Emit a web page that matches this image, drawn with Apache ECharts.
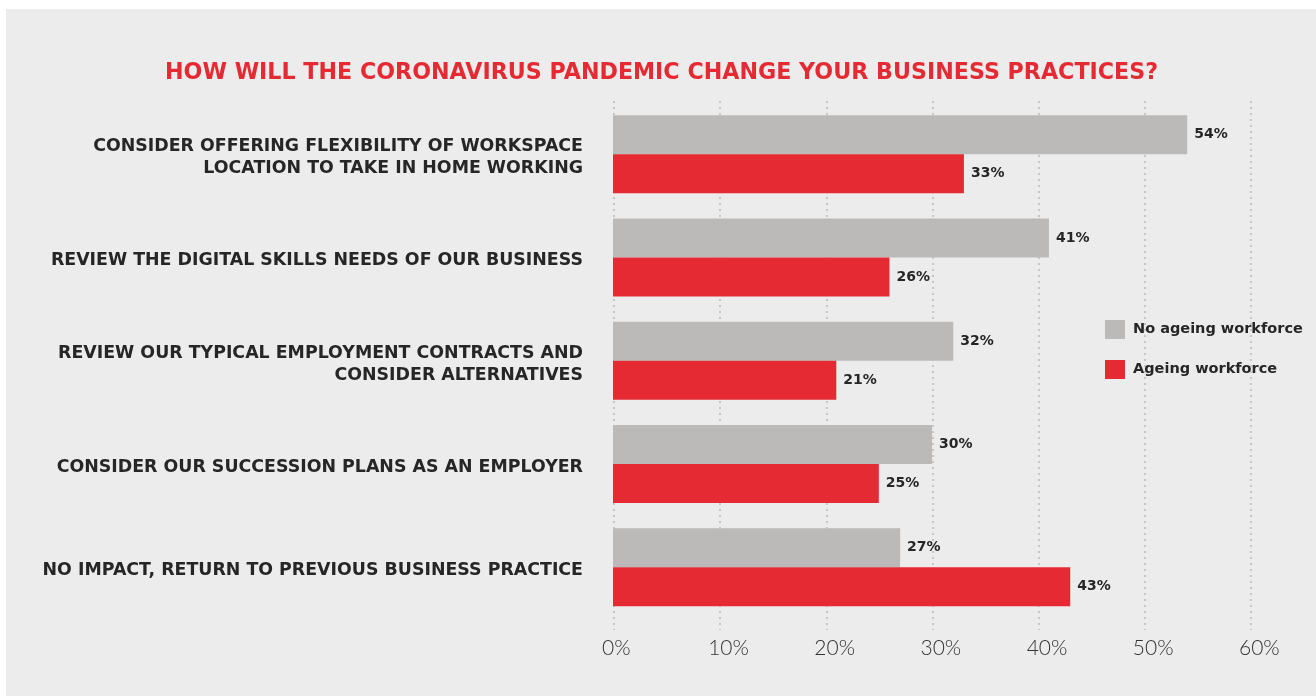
<!DOCTYPE html>
<html>
<head>
<meta charset="utf-8">
<script src="https://cdn.jsdelivr.net/npm/echarts@6/dist/echarts.min.js"></script>
<style>
  html, body { margin: 0; padding: 0; background: #ffffff; }
  #chart { width: 1316px; height: 696px; }
</style>
</head>
<body>
<div id="chart"></div>
<script>
// Survey answers, top to bottom
const categories = [
  'CONSIDER OFFERING FLEXIBILITY OF WORKSPACE\nLOCATION TO TAKE IN HOME WORKING',
  'REVIEW THE DIGITAL SKILLS NEEDS OF OUR BUSINESS',
  'REVIEW OUR TYPICAL EMPLOYMENT CONTRACTS AND\nCONSIDER ALTERNATIVES',
  'CONSIDER OUR SUCCESSION PLANS AS AN EMPLOYER',
  'NO IMPACT, RETURN TO PREVIOUS BUSINESS PRACTICE'
];
const noAgeingWorkforce = [54, 41, 32, 30, 27];
const ageingWorkforce = [33, 26, 21, 25, 43];
const seriesNames = ['No ageing workforce', 'Ageing workforce'];
const tickValues = [0, 10, 20, 30, 40, 50, 60];

const GREY = '#bbbab8';
const RED = '#e52a33';
const INK = '#262626';
const FONT = '"DejaVu Sans", "Open Sans", sans-serif';

const chart = echarts.init(document.getElementById('chart'), null, { renderer: 'canvas' });

const valueLabel = {
  show: true, position: 'right', distance: 7, formatter: '{c}%',
  color: INK, fontFamily: FONT, fontWeight: 'bold', fontSize: 14
};

const hiddenValueAxis = (gridIndex) => ({
  gridIndex, type: 'value', min: 0, max: 60, interval: 10,
  axisLine: { show: false }, axisTick: { show: false },
  axisLabel: { show: false }, splitLine: { show: false }
});

const option = {
  animation: false,
  backgroundColor: '#ffffff',
  graphic: [{
    type: 'rect',
    z: -10,
    silent: true,
    shape: { x: 6, y: 9, width: 1310, height: 687 },
    style: { fill: '#ececec' }
  }],
  title: {
    text: 'HOW WILL THE CORONAVIRUS PANDEMIC CHANGE YOUR BUSINESS PRACTICES?',
    left: 160,
    top: 57,
    textStyle: { color: RED, fontFamily: FONT, fontWeight: 'bold', fontSize: 22.2 }
  },
  legend: {
    orient: 'vertical',
    left: 1105,
    top: 320,
    padding: 0,
    itemWidth: 20,
    itemHeight: 19,
    itemGap: 21,
    icon: 'rect',
    data: seriesNames,
    textStyle: { color: INK, fontFamily: FONT, fontWeight: 'bold', fontSize: 14.5, padding: [0, 0, 0, 3] }
  },
  grid: [
    // bars
    { left: 613, right: 65, top: 102.5, bottom: 77 },
    // dotted value gridlines
    { left: 614, right: 65, top: 101, bottom: 66 },
    // percentage tick labels
    { left: 602, right: 77, top: 101, bottom: 66 },
    // category labels, set a little below the bar pairs
    { left: 613, right: 65, top: 106, bottom: 73.5 }
  ],
  xAxis: [
    hiddenValueAxis(0),
    {
      gridIndex: 1, type: 'value', min: 0, max: 60, interval: 10,
      axisLine: { show: false }, axisTick: { show: false },
      axisLabel: { show: false },
      splitLine: { show: true, lineStyle: { color: '#c6c6c6', width: 2, type: [2, 4] } }
    },
    {
      gridIndex: 2, type: 'value', min: 0, max: 60, interval: 10,
      axisLine: { show: false }, axisTick: { show: false }, splitLine: { show: false },
      axisLabel: {
        show: true, align: 'left', margin: 8,
        color: '#333333', fontFamily: '"Lato", "Open Sans", sans-serif', fontWeight: 300, fontSize: 21,
        formatter: v => tickValues.includes(v) ? v + '%' : ''
      }
    },
    hiddenValueAxis(3)
  ],
  yAxis: [
    {
      gridIndex: 0, type: 'category', data: categories, inverse: true,
      axisLine: { show: false }, axisTick: { show: false }, axisLabel: { show: false }
    },
    { gridIndex: 1, type: 'value', show: false, min: 0, max: 1 },
    { gridIndex: 2, type: 'value', show: false, min: 0, max: 1 },
    {
      gridIndex: 3, type: 'category', data: categories, inverse: true,
      axisLine: { show: false }, axisTick: { show: false },
      axisLabel: {
        margin: 30, color: INK, fontFamily: FONT, fontWeight: 'bold',
        fontSize: 17.4, lineHeight: 22, align: 'right'
      }
    }
  ],
  series: [
    {
      name: seriesNames[0], type: 'bar', xAxisIndex: 0, yAxisIndex: 0,
      data: noAgeingWorkforce, barWidth: 39, barGap: '0%',
      itemStyle: { color: GREY },
      label: valueLabel
    },
    {
      name: seriesNames[1], type: 'bar', xAxisIndex: 0, yAxisIndex: 0,
      data: ageingWorkforce, barWidth: 39, barGap: '0%',
      itemStyle: { color: RED },
      label: valueLabel
    }
  ]
};

chart.setOption(option);
</script>
</body>
</html>
